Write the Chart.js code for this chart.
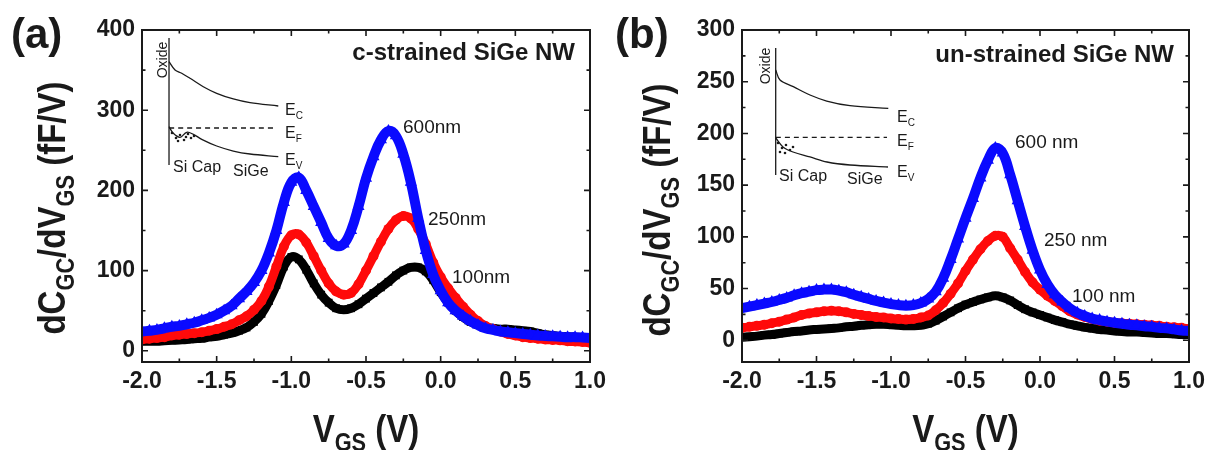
<!DOCTYPE html>
<html>
<head>
<meta charset="utf-8">
<script src="https://cdn.jsdelivr.net/npm/chart.js@4.4.1/dist/chart.umd.min.js"></script>
<style>
  html, body { margin: 0; padding: 0; background: #fff; }
  #wrap { position: relative; width: 1207px; height: 450px; overflow: hidden; }
  #chartA { position: absolute; left: 0; top: 0; }
  #chartB { position: absolute; left: 600px; top: 0; }
</style>
</head>
<body>
<div id="wrap">
  <canvas id="chartA" width="607" height="450"></canvas>
  <canvas id="chartB" width="607" height="450"></canvas>
</div>
<script>
// V_GS (V), shared by every curve
const vgs = [-2.00,-1.95,-1.90,-1.85,-1.80,-1.75,-1.70,-1.65,-1.60,-1.55,
  -1.50,-1.45,-1.40,-1.35,-1.30,-1.25,-1.20,-1.15,-1.10,-1.05,
  -1.00,-0.95,-0.90,-0.85,-0.80,-0.75,-0.70,-0.65,-0.60,-0.55,
  -0.50,-0.45,-0.40,-0.35,-0.30,-0.25,-0.20,-0.15,-0.10,-0.05,
  0.00,0.05,0.10,0.15,0.20,0.25,0.30,0.35,0.40,0.45,
  0.50,0.55,0.60,0.65,0.70,0.75,0.80,0.85,0.90,0.95,1.00];

// (a) c-strained SiGe NW, dCgc/dVgs (fF/V)
const a600 = [24,25,26,28,30,31,33,35,38,41, 45,50,56,65,74,85,100,122,150,185,
  210,216,200,180,160,140,131,133,150,180, 215,242,263,274,268,245,210,165,125,95,
  75,60,50,43,37,32,28,26,24,23, 22,21,20,19,18.5,18,17.5,17,17,16.5, 16];
const a250 = [14,15,16,17,19,20,21,22,23,25, 27,30,33,38,43,51,62,80,105,130,
  144,145,135,118,100,84,74,70,72,83, 100,118,136,152,163,168,165,152,133,110,
  92,78,66,55,45,37,31,27,24,21, 19,17,16,15,14,13.5,13,12,11.5,11, 10];
const a100 = [12,12,12,12.5,13,13.5,14,15,15.5,17, 18,20,22,25,29,36,46,62,82,105,
  117,114,101,84,70,60,53,51,53,58, 65,72,79,86,94,100,104,104,99,88,
  73,60,50,42,36,32,29,28,27,27, 26,25,24,22,20,19,18,17.5,17,16.5, 16];

// (b) un-strained SiGe NW
const b600 = [31,32.5,34,35.5,37,39,41,43.5,45.5,47, 48.5,49,49,48,46.5,44,42,40,38,36.5,
  35,34,33.5,34,36,40,47,60,78,98, 118,137,157,174,186,181,160,135,110,87,
  68,54,44,37,31,26.5,23.5,21,19.5,18, 17,16,15,14.5,13.5,13,12,11.5,10.5,9.5, 9];
const b250 = [12,13,14,15,16.5,18,20,22,24.5,26, 27,28,28.5,28,27,25.5,24.5,23.5,22.5,22,
  21,20.5,20,20.5,22,24,29,36,45,55, 67,78,88,96,101,100,89,78,66,56,
  49,43,38,33,28,25,22.5,20.5,19,18, 17,16.5,16,15.5,15,14.5,14,13,12.5,12, 11];
const b100 = [3,3.5,4,5,5.5,6.5,7.5,8.5,9,10, 10.5,11,11.5,12,13,13.5,14.5,15,15.5,15.5,
  15,14.5,14,14,14.5,16,19,23,27,31, 34.5,37,39.5,41.5,43,41.5,38.5,34,30,27,
  24.5,22,19.5,17.5,15.5,14,12.5,11.5,10.5,10, 9,8.5,8,8,7.5,7,6.5,6.5,6,5.5, 5.5];

// curve labels (gate length)
const namesA = ['600nm', '250nm', '100nm'];
const namesB = ['600 nm', '250 nm', '100 nm'];

// ticks
const xTicks = [-2.0,-1.5,-1.0,-0.5,0.0,0.5,1.0];
const xMinor = [-1.75,-1.25,-0.75,-0.25,0.25,0.75];
const yTicksA = [0,100,200,300,400];
const yMinorA = [50,150,250,350];
const yTicksB = [0,50,100,150,200,250,300];
const yMinorB = [25,75,125,175,225,275];

// inset band diagrams, in % of the plot area (x from left, y from bottom)
const insAOxX = [6.03,6.03], insAOxY = [97.6,59.3];
const insAEcX = [6.03,7.37,8.86,10.71,13.68,16.67,20.38,24.11,30.42];
const insAEcY = [90.45,87.95,86.96,85.45,82.92,80.93,79.22,78.10,77.11];
const insAEfX = [6.03,29.24], insAEfY = [70.48,70.48];
const insAEvX = [6.03,6.99,8.48,9.98,11.45,13.33,16.67,20.38,24.11,30.42];
const insAEvY = [70.87,68.88,67.68,69.19,68.58,67.07,65.06,63.55,62.65,61.84];
const insADotX = [6.70,7.59,8.48,9.38,10.27,10.94,11.61,8.04,9.82];
const insADotY = [68.98,67.47,68.37,66.87,68.67,67.47,68.07,66.57,67.77];

const insBOxX = [7.54,7.54], insBOxY = [94.58,56.33];
const insBEcX = [7.54,8.50,11.48,15.21,18.95,24.16,32.73];
const insBEcY = [87.95,84.94,82.92,80.42,78.61,77.20,76.42];
const insBEfX = [7.54,32.44], insBEfY = [67.68,67.68];
const insBEvX = [7.54,9.17,11.41,15.21,19.02,24.16,32.66];
const insBEvY = [67.47,64.76,63.25,61.75,60.24,59.34,58.73];
const insBDotX = [8.05,8.95,9.84,10.74,8.50,9.62,11.41];
const insBDotY = [65.96,64.46,65.36,63.86,63.25,62.95,64.76];

const FONT = "'Liberation Sans', Arial, Helvetica, sans-serif";
const INK = '#1a1a1a';
const BLUE = '#0a0aff', RED = '#ff0a0a', BLACK = '#000000';

function pts(xs, ys) { return xs.map((x, i) => ({ x: x, y: ys[i] })); }

function curve(ys, color, style, r, w, order) {
  return {
    data: pts(vgs, ys), xAxisID: 'x', yAxisID: 'y',
    borderColor: color, backgroundColor: color, borderWidth: w,
    pointStyle: style, pointRadius: r, pointBorderWidth: 0,
    pointBackgroundColor: color, tension: 0.4, order: order
  };
}

function insetLine(xs, ys, dash) {
  return {
    data: pts(xs, ys), xAxisID: 'ix', yAxisID: 'iy',
    borderColor: INK, borderWidth: 1.3, borderDash: dash || [],
    pointRadius: 0, tension: 0.35, order: 0
  };
}

function insetDots(xs, ys) {
  return {
    data: pts(xs, ys), xAxisID: 'ix', yAxisID: 'iy', showLine: false,
    pointRadius: 1.3, pointStyle: 'circle', pointBorderWidth: 0,
    pointBackgroundColor: INK, order: 0
  };
}

// text with subscripts: parts = [[text, isSub], ...]
function rich(ctx, parts, x, y, o) {
  const size = o.size, subSize = Math.round(size * 0.65);
  const weight = o.bold ? 'bold ' : '';
  ctx.save();
  ctx.translate(x, y);
  if (o.rotate) ctx.rotate(-Math.PI / 2);
  ctx.scale(o.sx || 1, 1);
  ctx.fillStyle = INK;
  ctx.textBaseline = 'alphabetic';
  ctx.textAlign = 'left';
  let total = 0;
  const widths = parts.map(p => {
    ctx.font = weight + (p[1] ? subSize : size) + 'px ' + FONT;
    const w = ctx.measureText(p[0]).width;
    total += w;
    return w;
  });
  let cx = o.align === 'center' ? -total / 2 : (o.align === 'right' ? -total : 0);
  parts.forEach((p, i) => {
    ctx.font = weight + (p[1] ? subSize : size) + 'px ' + FONT;
    ctx.fillText(p[0], cx, p[1] ? size * 0.24 : 0);
    cx += widths[i];
  });
  ctx.restore();
}

const decor = {
  id: 'decor',
  afterDatasetsDraw(chart, args, o) {
    const ctx = chart.ctx, a = chart.chartArea;
    const sx = chart.scales.x, sy = chart.scales.y;
    ctx.save();
    // frame
    ctx.strokeStyle = INK;
    ctx.lineWidth = 2;
    ctx.strokeRect(a.left, a.top, a.right - a.left, a.bottom - a.top);
    // inward ticks on all four sides
    ctx.lineWidth = 1.6;
    const tick = (v, len, horiz) => {
      ctx.beginPath();
      if (horiz) {
        const p = sx.getPixelForValue(v);
        ctx.moveTo(p, a.bottom); ctx.lineTo(p, a.bottom - len);
        ctx.moveTo(p, a.top); ctx.lineTo(p, a.top + len);
      } else {
        const p = sy.getPixelForValue(v);
        ctx.moveTo(a.left, p); ctx.lineTo(a.left + len, p);
        ctx.moveTo(a.right, p); ctx.lineTo(a.right - len, p);
      }
      ctx.stroke();
    };
    xTicks.forEach(v => tick(v, 6, true));
    xMinor.forEach(v => tick(v, 3.5, true));
    o.yMajor.forEach(v => tick(v, 6, false));
    o.yMinor.forEach(v => tick(v, 3.5, false));
    ctx.restore();

    // panel letter, title, axis titles
    rich(ctx, [[o.letter, 0]], o.letterX, 48, { size: 42, bold: true });
    rich(ctx, [[o.note, 0]], o.noteX, o.noteY, { size: 24, bold: true, align: 'right' });
    rich(ctx, [['dC', 0], ['GC', 1], ['/dV', 0], ['GS', 1], [' (fF/V)', 0]],
      o.yTitleX, o.yTitleY, { size: 38, bold: true, rotate: true, sx: 0.87, align: 'center' });
    rich(ctx, [['V', 0], ['GS', 1], [' (V)', 0]],
      (a.left + a.right) / 2, 442, { size: 38, bold: true, sx: 0.87, align: 'center' });

    // curve labels
    o.curveLabels.forEach((t, i) => {
      rich(ctx, [[t, 0]], o.curveLabelPos[i][0], o.curveLabelPos[i][1], { size: 19 });
    });

    // inset labels
    const ins = o.inset;
    rich(ctx, [['Oxide', 0]], ins.ox[0], ins.ox[1], { size: 14, rotate: true, align: 'center' });
    rich(ctx, [['E', 0], ['C', 1]], ins.e[0], ins.e[1], { size: 16 });
    rich(ctx, [['E', 0], ['F', 1]], ins.e[0], ins.e[2], { size: 16 });
    rich(ctx, [['E', 0], ['V', 1]], ins.e[0], ins.e[3], { size: 16 });
    rich(ctx, [['Si Cap', 0]], ins.cap[0], ins.cap[1], { size: 16 });
    rich(ctx, [['SiGe', 0]], ins.sige[0], ins.sige[1], { size: 16 });
  }
};

function panel(id, series, yMin, yMax, yMajor, yMinor, insetSets, padRight, o) {
  o.yMajor = yMajor;
  o.yMinor = yMinor;
  return new Chart(document.getElementById(id), {
    type: 'line',
    data: {
      datasets: [
        curve(series[0], BLUE, 'triangle', 7, 10, 1),
        curve(series[1], RED, 'circle', 5, 9, 2),
        curve(series[2], BLACK, 'rect', 5.5, 9, 3)
      ].concat(insetSets)
    },
    options: {
      responsive: false,
      animation: false,
      layout: { padding: { left: 0, right: padRight, top: 30, bottom: 0 } },
      plugins: { legend: { display: false }, tooltip: { enabled: false }, decor: o },
      scales: {
        x: {
          type: 'linear', min: -2, max: 1,
          grid: { display: false, drawTicks: false }, border: { display: false },
          ticks: { color: INK, padding: 6, font: { family: FONT, size: 23, weight: 'bold' },
            callback: v => Number(v).toFixed(1) },
          afterBuildTicks: s => { s.ticks = xTicks.map(v => ({ value: v })); },
          afterFit: s => { s.height = 88; s.paddingLeft = 0; s.paddingRight = 0; }
        },
        y: {
          type: 'linear', min: yMin, max: yMax,
          grid: { display: false, drawTicks: false }, border: { display: false },
          ticks: { color: INK, padding: 7, font: { family: FONT, size: 23, weight: 'bold' } },
          afterBuildTicks: s => { s.ticks = yMajor.map(v => ({ value: v })); },
          afterFit: s => { s.width = 142; s.paddingTop = 0; s.paddingBottom = 0; }
        },
        ix: { type: 'linear', display: false, min: 0, max: 100 },
        iy: { type: 'linear', display: false, min: 0, max: 100 }
      }
    },
    plugins: [decor]
  });
}

panel('chartA', [a600, a250, a100], -14, 400, yTicksA, yMinorA, [
  insetLine(insAOxX, insAOxY), insetLine(insAEcX, insAEcY),
  insetLine(insAEfX, insAEfY, [5, 4]), insetLine(insAEvX, insAEvY),
  insetDots(insADotX, insADotY)
], 17, {
  letter: '(a)', letterX: 11, note: 'c-strained SiGe NW', noteX: 575, noteY: 60,
  yTitleX: 65, yTitleY: 208,
  curveLabels: namesA,
  curveLabelPos: [[403, 133], [428, 225], [452, 283]],
  inset: { ox: [167, 60], e: [285, 115, 138, 165], cap: [173, 172], sige: [233, 176] }
});

panel('chartB', [b600, b250, b100], -21, 300, yTicksB, yMinorB, [
  insetLine(insBOxX, insBOxY), insetLine(insBEcX, insBEcY),
  insetLine(insBEfX, insBEfY, [5, 4]), insetLine(insBEvX, insBEvY),
  insetDots(insBDotX, insBDotY)
], 18, {
  letter: '(b)', letterX: 15, note: 'un-strained SiGe NW', noteX: 574, noteY: 62,
  yTitleX: 70, yTitleY: 210,
  curveLabels: namesB,
  curveLabelPos: [[415, 148], [444, 246], [472, 302]],
  inset: { ox: [170, 66], e: [297, 122, 146, 177], cap: [179, 181], sige: [247, 184] }
});
</script>
</body>
</html>
